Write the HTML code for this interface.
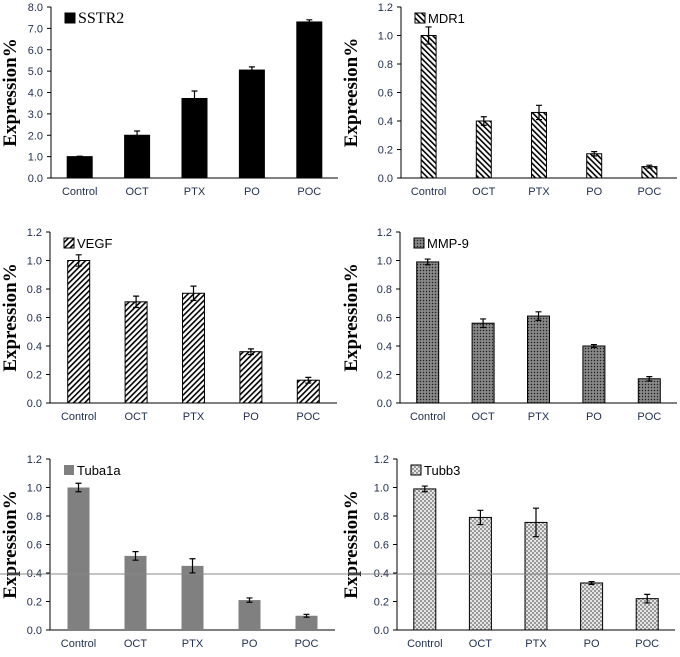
<!DOCTYPE html>
<html><head><meta charset="utf-8"><style>
body{margin:0;background:#fff;}
svg{display:block;}
.tk{font-family:"Liberation Sans",sans-serif;font-size:11px;fill:#1f2d4d;}
.yl{font-family:"Liberation Serif",serif;font-weight:bold;font-size:19px;fill:#000;}
.lg{font-family:"Liberation Sans",sans-serif;font-size:13px;fill:#000;}
.lgs{font-family:"Liberation Serif",serif;font-size:16px;fill:#000;}
</style></head><body>
<svg id="c" width="680" height="657" viewBox="0 0 680 657" xmlns="http://www.w3.org/2000/svg">
<defs>
<pattern id="pBack" width="4" height="4" patternUnits="userSpaceOnUse" patternTransform="rotate(-45)"><rect width="4" height="4" fill="#fff"/><rect width="1.6" height="4" fill="#000"/></pattern>
<pattern id="pFwd" width="4" height="4" patternUnits="userSpaceOnUse" patternTransform="rotate(45)"><rect width="4" height="4" fill="#fff"/><rect width="1.6" height="4" fill="#000"/></pattern>
<pattern id="pDark" width="3" height="3" patternUnits="userSpaceOnUse"><rect width="3" height="3" fill="#777"/><rect width="1" height="1" fill="#222"/><rect x="1.5" y="1.5" width="1" height="1" fill="#bbb"/></pattern>
<pattern id="pLight" width="4" height="4" patternUnits="userSpaceOnUse"><rect width="4" height="4" fill="#e4e4e4"/><rect width="2" height="2" fill="#999"/><rect x="2" y="2" width="2" height="2" fill="#999"/></pattern>
</defs>
</svg>
<script>
const categories=["Control","OCT","PTX","PO","POC"];
const sstr2Values=[1.0,2.0,3.72,5.05,7.3];
const sstr2Err=[0.02,0.2,0.35,0.15,0.1];
const mdr1Values=[1.0,0.40,0.46,0.17,0.08];
const mdr1Err=[0.06,0.03,0.05,0.015,0.01];
const vegfValues=[1.0,0.71,0.77,0.36,0.16];
const vegfErr=[0.04,0.04,0.05,0.02,0.02];
const mmp9Values=[0.99,0.56,0.61,0.40,0.17];
const mmp9Err=[0.02,0.03,0.03,0.01,0.015];
const tuba1aValues=[1.0,0.52,0.45,0.21,0.10];
const tuba1aErr=[0.03,0.03,0.05,0.015,0.01];
const tubb3Values=[0.99,0.79,0.755,0.33,0.22];
const tubb3Err=[0.02,0.05,0.1,0.01,0.03];
const ticks8=["0.0","1.0","2.0","3.0","4.0","5.0","6.0","7.0","8.0"];
const ticks12=["0.0","0.2","0.4","0.6","0.8","1.0","1.2"];

const NS="http://www.w3.org/2000/svg";
const svg=document.getElementById('c');
function mk(t,a,p){const e=document.createElementNS(NS,t);for(const k in a)e.setAttribute(k,a[k]);(p||svg).appendChild(e);return e;}

const panels=[
 {key:"sstr2",title:"SSTR2",vals:sstr2Values,err:sstr2Err,ticks:ticks8,max:8,x0:51,x1:338,y0:178,y1:7,bw:25,fill:"#000",ylab:"Expression%",ylx:16,lserif:true},
 {key:"mdr1",title:"MDR1",vals:mdr1Values,err:mdr1Err,ticks:ticks12,max:1.2,x0:401,x1:677,y0:178,y1:7,bw:15,fill:"url(#pBack)",ylab:"Expreesion%",ylx:357},
 {key:"vegf",title:"VEGF",vals:vegfValues,err:vegfErr,ticks:ticks12,max:1.2,x0:50,x1:337,y0:403,y1:232,bw:22,fill:"url(#pFwd)",ylab:"Expression%",ylx:16},
 {key:"mmp9",title:"MMP-9",vals:mmp9Values,err:mmp9Err,ticks:ticks12,max:1.2,x0:400,x1:677,y0:403,y1:232,bw:22,fill:"url(#pDark)",ylab:"Expression%",ylx:357},
 {key:"tuba1a",title:"Tuba1a",vals:tuba1aValues,err:tuba1aErr,ticks:ticks12,max:1.2,x0:50,x1:335,y0:630,y1:459,bw:22,fill:"#808080",ylab:"Expression%",ylx:16,nostroke:true},
 {key:"tubb3",title:"Tubb3",vals:tubb3Values,err:tubb3Err,ticks:ticks12,max:1.2,x0:397,x1:675,y0:630,y1:459,bw:22,fill:"url(#pLight)",ylab:"Expression%",ylx:357}
];

panels.forEach(p=>{
  const g=mk('g',{});
  
  
  const ys=v=>p.y0-(v/p.max)*(p.y0-p.y1);
  const step=(p.x1-p.x0)/categories.length;
  const xc=i=>p.x0+step*(i+0.5);
  const ya=mk('line',{x1:p.x0,y1:p.y1,x2:p.x0,y2:p.y0,stroke:"#000","stroke-width":1},g);
  
  
  const xa=mk('line',{x1:p.x0,y1:p.y0,x2:p.x1,y2:p.y0,stroke:"#000","stroke-width":1},g);
  
  
  p.ticks.forEach((t,i)=>{
    const v=p.max*i/(p.ticks.length-1);
    const y=ys(v);
    mk('line',{x1:p.x0-4,y1:y,x2:p.x0,y2:y,stroke:"#000"},g);
    const tx=mk('text',{x:p.x0-8,y:y+4,"text-anchor":"end",class:"tk"},g);
    tx.textContent=t;
    
    
  });
  categories.forEach((c,i)=>{
    const x=xc(i);
    const tx=mk('text',{x:x,y:p.y0+17,"text-anchor":"middle",class:"tk"},g);
    tx.textContent=c;
    
    
    const v=p.vals[i],e=p.err[i];
    const b=mk('rect',{x:x-p.bw/2,y:ys(v),width:p.bw,height:p.y0-ys(v),fill:p.fill,stroke:p.nostroke?"none":"#000","stroke-width":1},g);
    
    
    const eb=mk('path',{d:`M${x},${ys(v+e)}V${ys(v-e)}M${x-3},${ys(v+e)}H${x+3}M${x-3},${ys(v-e)}H${x+3}`,stroke:"#000","stroke-width":1.2,fill:"none"},g);
    
    
  });
  const lg=mk('g',{},g);
  
  
  mk('rect',{x:p.x0+14,y:p.y1+6,width:10,height:10,fill:p.fill,stroke:p.nostroke?"none":"#000"},lg);
  const lt=mk('text',{x:p.x0+27,y:p.y1+16,class:p.lserif?"lgs":"lg"},lg);
  lt.textContent=p.title;
  const yl=mk('text',{x:0,y:0,transform:`translate(${p.ylx},${(p.y0+p.y1)/2}) rotate(-90)`,"text-anchor":"middle",class:"yl"},g);
  yl.textContent=p.ylab;
  
  
});
const hl=mk('line',{x1:0,y1:574,x2:680,y2:574,stroke:"#888","stroke-width":1});


</script>
</body></html>
